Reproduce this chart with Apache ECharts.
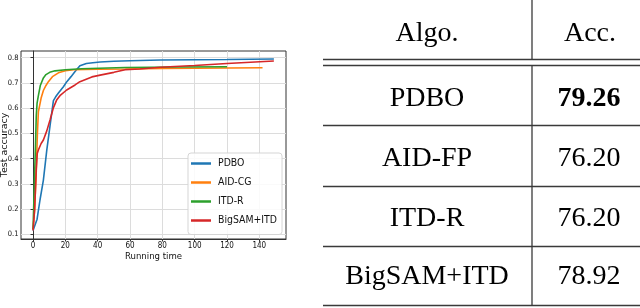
<!DOCTYPE html>
<html><head><meta charset="utf-8">
<script src="https://cdn.jsdelivr.net/npm/echarts@6/dist/echarts.min.js"></script>
<style>html,body{margin:0;padding:0;background:#fff}#c{width:640px;height:308px}</style>
</head><body><div id="c"></div>
<script>
const xTicks = [0, 20, 40, 60, 80, 100, 120, 140];
const yTicks = [0.1, 0.2, 0.3, 0.4, 0.5, 0.6, 0.7, 0.8];
const seriesNames = ['PDBO', 'AID-CG', 'ITD-R', 'BigSAM+ITD'];
const pdbo = [[0,0.115],[1.2,0.12],[2.5,0.16],[4.3,0.236],[6.4,0.315],[8.5,0.434],[10.5,0.53],[12.6,0.63],[14,0.645],[15.7,0.66],[18.8,0.685],[20.9,0.705],[23.5,0.725],[26,0.745],[29,0.768],[33,0.777],[37,0.78],[41.5,0.783],[50,0.786],[60,0.788],[78.7,0.791],[100,0.792],[120,0.793],[149,0.795]];
const aidcg = [[0,0.12],[1,0.2],[2,0.35],[2.7,0.5],[3.3,0.585],[5,0.64],[6.4,0.67],[8,0.69],[9.5,0.705],[12,0.725],[15.7,0.74],[20,0.748],[25,0.752],[40,0.754],[57,0.755],[80,0.757],[100,0.758],[120,0.759],[142,0.76]];
const itdr = [[0,0.12],[0.8,0.3],[1.5,0.45],[2,0.57],[2.5,0.62],[3.3,0.65],[4.5,0.69],[6.4,0.72],[8,0.733],[10.3,0.742],[13.6,0.748],[20,0.752],[30,0.756],[57,0.761],[90,0.763],[120,0.764]];
const bigsam = [[0,0.115],[1,0.2],[2,0.36],[2.6,0.42],[3.3,0.434],[5,0.46],[6.4,0.474],[8.5,0.51],[10.5,0.553],[12.5,0.6],[14.6,0.632],[17,0.652],[20.8,0.672],[26,0.692],[29,0.705],[36.4,0.724],[41.5,0.731],[50,0.742],[57,0.752],[66,0.755],[78.7,0.762],[100,0.769],[120,0.777],[149,0.787]];
const tableHeader = ['Algo.', 'Acc.'];
const tableAlgos = ['PDBO', 'AID-FP', 'ITD-R', 'BigSAM+ITD'];
const tableAcc = ['79.26', '76.20', '76.20', '78.92'];
const boldRow = 0;

const colors = ['#1f77b4', '#ff7f0e', '#2ca02c', '#d62728'];
const narrow = "'DejaVu Sans Condensed', 'DejaVu Sans', sans-serif";
const serif = "'Liberation Serif', 'DejaVu Serif', serif";
const lineData = [pdbo, aidcg, itdr, bigsam];

const chart = echarts.init(document.getElementById('c'), null, {renderer: 'canvas'});

const graphics = [];
const lc = '#3a3a3a';
function hline(y) { graphics.push({type: 'line', shape: {x1: 323, y1: y, x2: 640, y2: y}, style: {stroke: lc, lineWidth: 1.3}, silent: true}); }
function vline(y1, y2) { graphics.push({type: 'line', shape: {x1: 532, y1: y1, x2: 532, y2: y2}, style: {stroke: lc, lineWidth: 1.3}, silent: true}); }
[59.5, 65.5, 125.5, 186.5, 246.5, 305.5].forEach(hline);
vline(0, 59.5); vline(65.5, 306);
function txt(s, x, y, bold) {
  graphics.push({type: 'text', x: x, y: y, silent: true, style: {text: s, fill: '#000', font: (bold ? 'bold ' : '') + '28px ' + serif, align: 'center', verticalAlign: 'middle'}});
}
txt(tableHeader[0], 427, 34); txt(tableHeader[1], 590, 34);
const rowY = [99, 159, 219, 277];
tableAlgos.forEach((a, i) => { txt(a, 427, rowY[i]); txt(tableAcc[i], 589, rowY[i], i === boldRow); });

chart.setOption({
  animation: false,
  color: colors,
  grid: {left: 21, top: 51, width: 265, height: 188, outerBoundsMode: 'none', containLabel: false, show: true, borderColor: '#333', borderWidth: 1, backgroundColor: 'transparent'},
  legend: {
    data: seriesNames, orient: 'vertical', left: 188, top: 153,
    icon: 'rect', itemWidth: 20, itemHeight: 2.5, itemGap: 5,
    padding: [3.5, 5, 7, 3],
    backgroundColor: 'rgba(255,255,255,0.85)', borderColor: '#d5d5d5', borderWidth: 1, borderRadius: 3,
    textStyle: {fontFamily: narrow, fontSize: 10.4, color: '#111', lineHeight: 14, padding: [0, 0, 0, 2]}
  },
  xAxis: {
    type: 'value', min: -7.45, max: 156.5,
    name: 'Running time', nameLocation: 'middle', nameGap: 12.5, nameMoveOverlap: false,
    nameTextStyle: {fontFamily: narrow, fontSize: 9.5, color: '#111'},
    axisLine: {show: true, lineStyle: {color: '#333'}},
    axisTick: {show: true, length: 2.5, customValues: xTicks, lineStyle: {color: '#333'}},
    axisLabel: {customValues: xTicks, margin: 3, fontFamily: narrow, fontSize: 8, color: '#111'},
    splitLine: {show: true, lineStyle: {color: '#dcdcdc', width: 1}}
  },
  yAxis: {
    type: 'value', min: 0.0814, max: 0.8266,
    name: 'Test accuracy', nameLocation: 'middle', nameGap: 11.5, nameRotate: 90, nameMoveOverlap: false,
    nameTextStyle: {fontFamily: "'DejaVu Sans', sans-serif", fontSize: 9.5, color: '#111'},
    axisLine: {show: true, lineStyle: {color: '#333'}},
    axisTick: {show: true, length: 2.5, customValues: yTicks, lineStyle: {color: '#333'}},
    axisLabel: {customValues: yTicks, margin: 2.5, fontFamily: narrow, fontSize: 7.5, color: '#111', formatter: v => v.toFixed(1)},
    splitLine: {show: true, lineStyle: {color: '#dcdcdc', width: 1}}
  },
  series: seriesNames.map((n, i) => ({
    name: n, type: 'line', data: lineData[i], showSymbol: false, symbol: 'none',
    lineStyle: {width: 1.6, color: colors[i]}, itemStyle: {color: colors[i]}, z: 2 + i
  })),
  graphic: graphics
});
</script></body></html>
